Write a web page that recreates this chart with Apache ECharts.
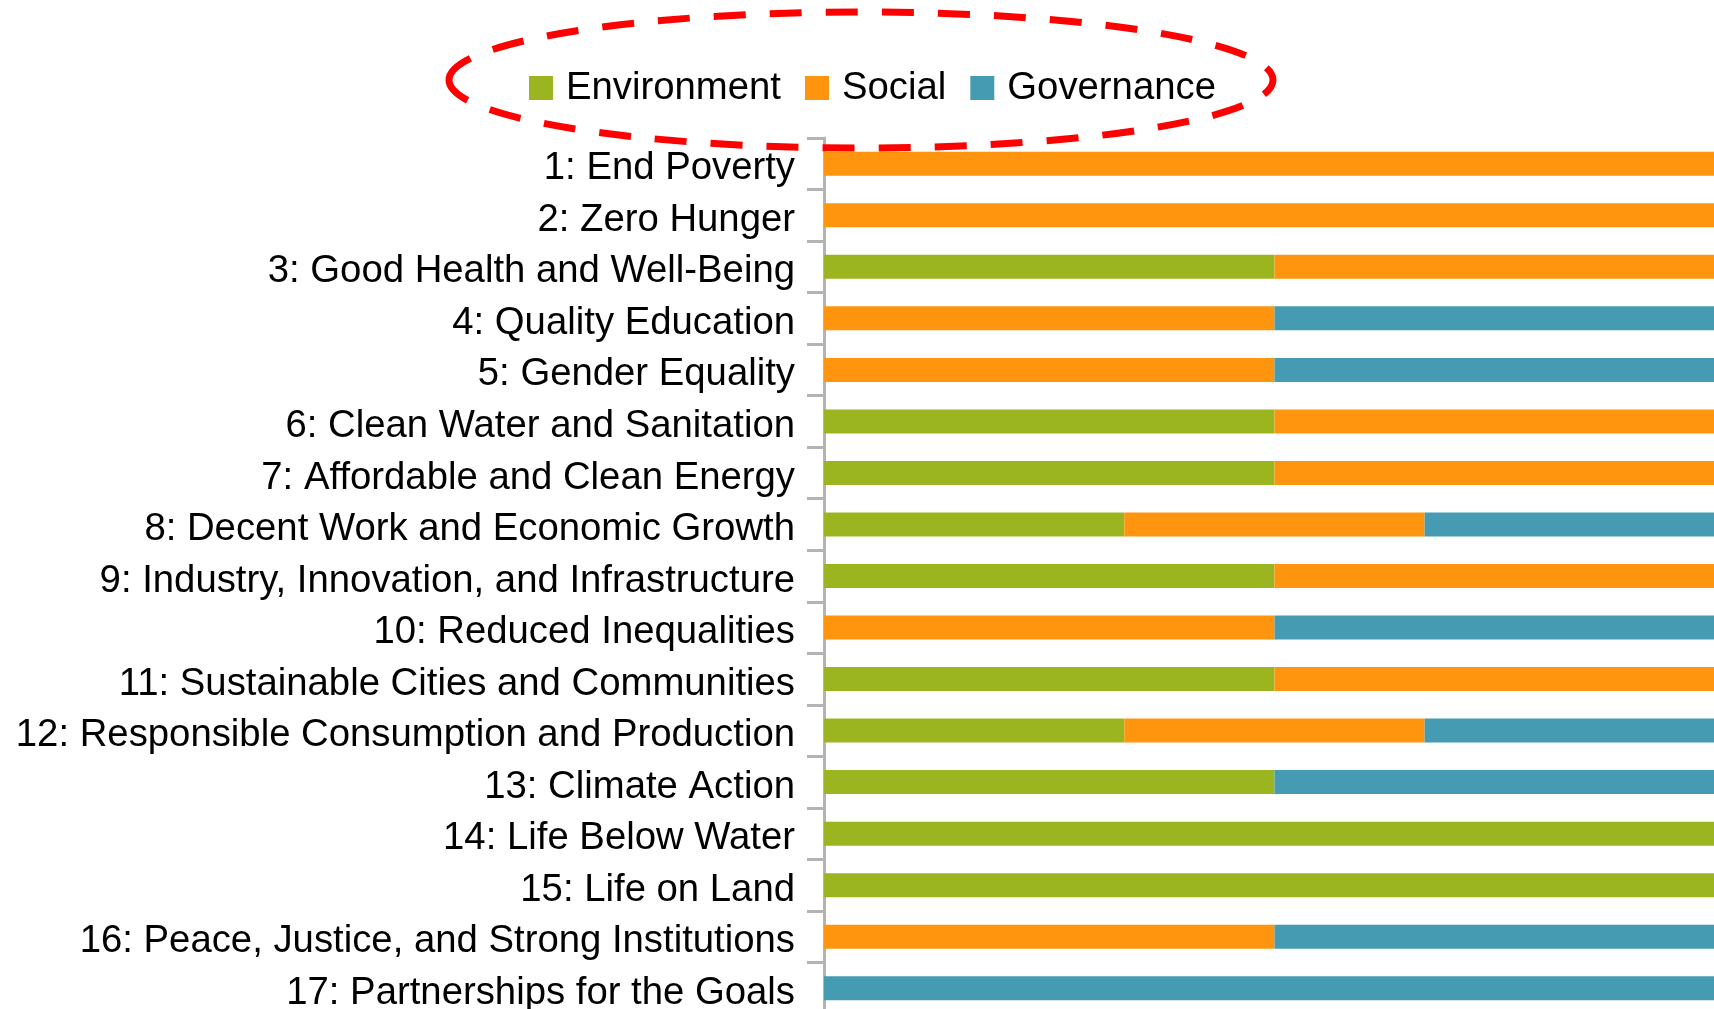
<!DOCTYPE html>
<html lang="en" style="height: 100%">
<head>
  <meta charset="utf-8">
</head>
<body style="height: 100%; margin: 0; background: #fff">
  <div id="container" style="width: 1714px; height: 1009px"></div>

  <script type="text/javascript" src="https://fastly.jsdelivr.net/npm/echarts@6/dist/echarts.min.js"></script>
  <script type="text/javascript">
    // SDG goals, top to bottom
    var categories = [
      '1: End Poverty',
      '2: Zero Hunger',
      '3: Good Health and Well-Being',
      '4: Quality Education',
      '5: Gender Equality',
      '6: Clean Water and Sanitation',
      '7: Affordable and Clean Energy',
      '8: Decent Work and Economic Growth',
      '9: Industry, Innovation, and Infrastructure',
      '10: Reduced Inequalities',
      '11: Sustainable Cities and Communities',
      '12: Responsible Consumption and Production',
      '13: Climate Action',
      '14: Life Below Water',
      '15: Life on Land',
      '16: Peace, Justice, and Strong Institutions',
      '17: Partnerships for the Goals'
    ];
    // share of each pillar in a goal (percent)
    var environment = [0, 0, 50, 0, 0, 50, 50, 33.33, 50, 0, 50, 33.33, 50, 100, 100, 0, 0];
    var social      = [100, 100, 50, 50, 50, 50, 50, 33.33, 50, 50, 50, 33.33, 0, 0, 0, 50, 0];
    var governance  = [0, 0, 0, 50, 50, 0, 0, 33.34, 0, 50, 0, 33.34, 50, 0, 0, 50, 100];

    var dom = document.getElementById('container');
    var myChart = echarts.init(dom, null, { renderer: 'canvas' });

    var font = 'Liberation Sans';

    function bar(name, data, color) {
      return {
        name: name,
        type: 'bar',
        stack: 'total',
        data: data,
        barWidth: 24,
        itemStyle: { color: color },
        emphasis: { disabled: true }
      };
    }

    var option = {
      backgroundColor: '#fff',
      animation: false,
      textStyle: { fontFamily: font },
      legend: {
        left: 524,
        top: 64,
        itemWidth: 24,
        itemHeight: 24,
        itemGap: 24,
        icon: 'rect',
        textStyle: { fontSize: 38.3, color: '#000', fontFamily: font, padding: [0, 0, 0, 8] },
        data: ['Environment', 'Social', 'Governance']
      },
      grid: {
        left: 824,
        right: -11,
        top: 138,
        bottom: -5,
        containLabel: false,
        outerBoundsMode: 'none'
      },
      xAxis: {
        type: 'value',
        min: 0,
        max: 100,
        show: false
      },
      yAxis: {
        type: 'category',
        inverse: true,
        data: categories,
        axisLine: { show: true, lineStyle: { color: '#b3b3b3', width: 3 } },
        axisTick: { show: true, length: 17, lineStyle: { color: '#b3b3b3', width: 3 } },
        axisLabel: {
          margin: 29,
          formatter: function (v) { return '{t|' + v + '}'; },
          rich: {
            t: { fontSize: 38.3, color: '#000', fontFamily: font, padding: [10, 0, 0, 0] }
          }
        }
      },
      series: [
        bar('Environment', environment, '#9bb521'),
        bar('Social', social, '#ff950e'),
        bar('Governance', governance, '#459cb2')
      ],
      graphic: [{
        type: 'ellipse',
        z: 100,
        shape: { cx: 861, cy: 80, rx: 412, ry: 68 },
        style: { fill: null, stroke: '#ff0000', lineWidth: 7, lineDash: [32, 24] }
      }]
    };

    myChart.setOption(option);
    window.addEventListener('resize', myChart.resize);
  </script>
</body>
</html>
